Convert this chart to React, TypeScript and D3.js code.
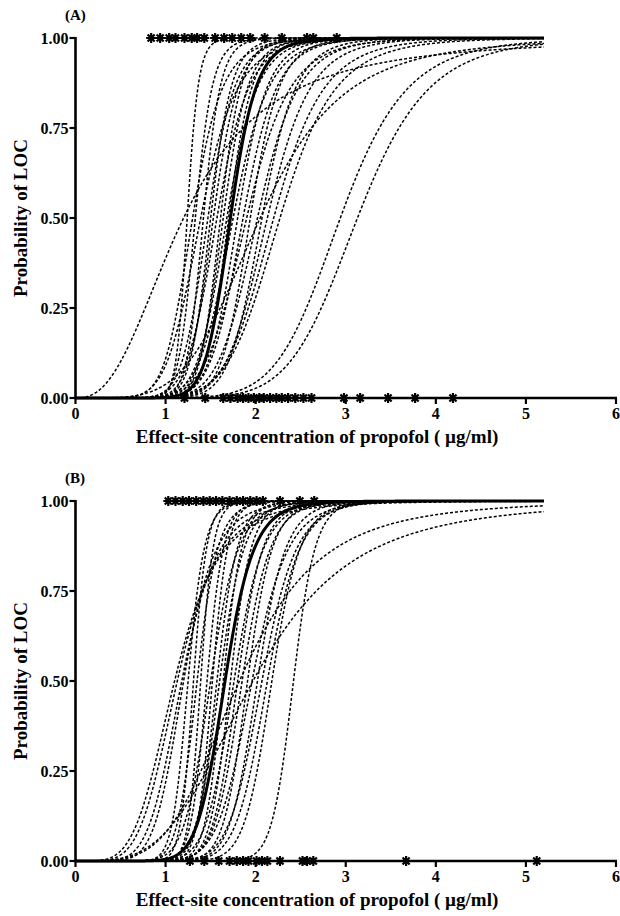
import React from "react";
import * as d3 from "d3";

// ---- data ----
const xTicks = [0, 1, 2, 3, 4, 5, 6];
const yTicks = [0, 0.25, 0.5, 0.75, 1];
const yTickLabels = ["0.00", "0.25", "0.50", "0.75", "1.00"];
const xTitle = "Effect-site concentration of propofol ( \u00b5g/ml)";
const yTitle = "Probability of LOC";

// Panel A: individual sigmoid (Hill) curves: Ce50 and steepness
const ec50A = [1.2, 1.24, 1.3, 1.33, 1.39, 1.42, 1.47, 1.5, 1.53, 1.57, 1.61, 1.64, 1.68, 1.7, 1.75, 1.8, 1.86, 1.9, 1.94, 2.02, 2.05, 2.07, 2.13, 2.2, 2.27, 2.94, 3.13];
const gammaA = [2.5, 20, 8, 14, 7, 15, 10, 13, 11, 9, 14, 12, 10, 13, 9, 11, 10, 8, 12, 9, 4.5, 11, 9, 8, 7.5, 8, 8];
const popEc50A = 1.72;
const popGammaA = 12;
const locA = [0.84, 0.94, 1.04, 1.11, 1.21, 1.29, 1.35, 1.43, 1.55, 1.65, 1.74, 1.84, 1.94, 2.1, 2.29, 2.57, 2.64, 2.9];
const noLocA = [1.21, 1.44, 1.64, 1.72, 1.8, 1.86, 1.92, 1.98, 2.04, 2.09, 2.16, 2.23, 2.29, 2.36, 2.44, 2.53, 2.62, 2.98, 3.16, 3.47, 3.77, 4.19];

// Panel B
const ec50B = [1.1, 1.18, 1.13, 1.2, 1.25, 1.31, 1.35, 1.39, 1.46, 1.5, 1.52, 1.57, 1.6, 1.64, 1.72, 1.76, 1.8, 1.82, 1.85, 1.91, 1.96, 1.97, 2.02, 2.07, 2.13, 2.18, 2.42];
const gammaB = [4.5, 6, 5, 7, 14, 18, 12, 20, 16, 10, 18, 14, 12, 16, 15, 11, 13, 4.1, 12, 14, 10, 3.6, 13, 11, 12, 14, 20];
const popEc50B = 1.66;
const popGammaB = 10.5;
const locB = [1.03, 1.11, 1.19, 1.26, 1.34, 1.42, 1.49, 1.56, 1.63, 1.71, 1.79, 1.86, 1.94, 2.01, 2.08, 2.27, 2.49, 2.65];
const noLocB = [1.27, 1.43, 1.59, 1.71, 1.79, 1.86, 1.92, 2.01, 2.07, 2.13, 2.27, 2.52, 2.57, 2.64, 3.67, 5.12];

const xMaxCurve = 5.2;

// ---- helpers ----
const FONT = "'Liberation Serif', 'Times New Roman', serif";
const hill = (x: number, c: number, g: number) => {
  if (x <= 0) return 0;
  const a = Math.pow(x, g);
  return a / (a + Math.pow(c, g));
};

const xScale = d3.scaleLinear().domain([0, 6]).range([75.5, 616]);
const grid = d3.range(0, xMaxCurve + 1e-9, 0.01);

function asterisk(cx: number, cy: number, r: number) {
  let d = "";
  for (let k = 0; k < 4; k++) {
    const a = (k * Math.PI) / 4;
    const dx = r * Math.cos(a);
    const dy = r * Math.sin(a);
    d += `M${cx - dx},${cy - dy}L${cx + dx},${cy + dy}`;
  }
  return d;
}

type PanelProps = {
  top: number;
  label: string;
  ec50: number[];
  gamma: number[];
  popEc50: number;
  popGamma: number;
  loc: number[];
  noLoc: number[];
};

function Panel({ top, label, ec50, gamma, popEc50, popGamma, loc, noLoc }: PanelProps) {
  const y = d3.scaleLinear().domain([0, 1]).range([top + 360, top]);
  const line = (c: number, g: number) =>
    d3
      .line<number>()
      .x((d) => xScale(d))
      .y((d) => y(hill(d, c, g)))(grid) || "";
  const x0 = xScale(0);
  const yBase = y(0);
  return (
    <g>
      <text x={65} y={top - 18} fontFamily={FONT} fontWeight="bold" fontSize={15}>
        {label}
      </text>
      {/* curves */}
      {ec50.map((c, i) => (
        <path key={i} d={line(c, gamma[i])} fill="none" stroke="#000" strokeWidth={1.5} strokeDasharray="3,2" />
      ))}
      <path d={line(popEc50, popGamma)} fill="none" stroke="#000" strokeWidth={3} />
      {/* axes */}
      <line x1={x0} x2={x0} y1={y(1) - 1} y2={yBase} stroke="#000" strokeWidth={2.6} />
      <line x1={x0 - 1} x2={xScale(6) + 1} y1={yBase} y2={yBase} stroke="#000" strokeWidth={2.6} />
      {yTicks.map((t, i) => (
        <g key={t}>
          <line x1={x0 - 6} x2={x0} y1={y(t)} y2={y(t)} stroke="#000" strokeWidth={2.2} />
          <text x={x0 - 7} y={y(t) + 5.5} textAnchor="end" fontFamily={FONT} fontWeight="bold" fontSize={16}>
            {yTickLabels[i]}
          </text>
        </g>
      ))}
      {xTicks.map((t) => (
        <g key={t}>
          <line x1={xScale(t)} x2={xScale(t)} y1={yBase} y2={yBase + 6} stroke="#000" strokeWidth={2.2} />
          <text x={xScale(t)} y={yBase + 21} textAnchor="middle" fontFamily={FONT} fontWeight="bold" fontSize={16}>
            {t}
          </text>
        </g>
      ))}
      <text x={317} y={yBase + 45} textAnchor="middle" fontFamily={FONT} fontWeight="bold" fontSize={19}>
        {xTitle}
      </text>
      <text
        transform={`translate(27,${y(0.5)}) rotate(-90)`}
        textAnchor="middle"
        fontFamily={FONT}
        fontWeight="bold"
        fontSize={19}
      >
        {yTitle}
      </text>
      {/* observations */}
      {loc.map((v, i) => (
        <path key={"l" + i} d={asterisk(xScale(v), y(1), 5)} stroke="#000" strokeWidth={2.2} />
      ))}
      {noLoc.map((v, i) => (
        <path key={"n" + i} d={asterisk(xScale(v), y(0), 5)} stroke="#000" strokeWidth={2.2} />
      ))}
    </g>
  );
}

export default function App() {
  return (
    <svg
      width={620}
      height={916}
      style={{ position: "absolute", left: 0, top: 0, background: "#fff" }}
    >
      <rect x={0} y={0} width={620} height={916} fill="#fff" />
      <Panel top={38} label="(A)" ec50={ec50A} gamma={gammaA} popEc50={popEc50A} popGamma={popGammaA} loc={locA} noLoc={noLocA} />
      <Panel top={501} label="(B)" ec50={ec50B} gamma={gammaB} popEc50={popEc50B} popGamma={popGammaB} loc={locB} noLoc={noLocB} />
    </svg>
  );
}
